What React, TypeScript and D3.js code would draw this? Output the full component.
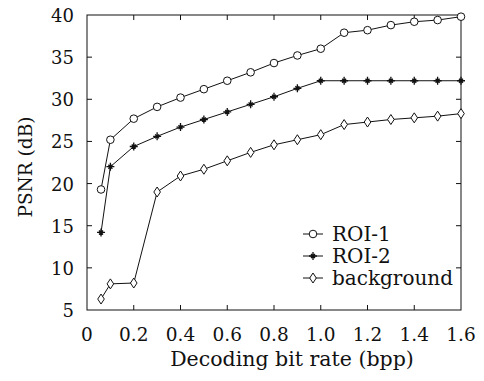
import * as d3 from 'd3'

const rates = [0.06, 0.1, 0.2, 0.3, 0.4, 0.5, 0.6, 0.7, 0.8, 0.9, 1.0, 1.1, 1.2, 1.3, 1.4, 1.5, 1.6]
const roi1 = [19.3, 25.2, 27.7, 29.1, 30.2, 31.2, 32.2, 33.2, 34.3, 35.2, 36.0, 37.9, 38.2, 38.8, 39.2, 39.4, 39.8]
const roi2 = [14.2, 22.0, 24.4, 25.6, 26.7, 27.6, 28.5, 29.4, 30.3, 31.3, 32.2, 32.2, 32.2, 32.2, 32.2, 32.2, 32.2]
const background = [6.3, 8.1, 8.2, 19.0, 20.9, 21.7, 22.7, 23.7, 24.6, 25.2, 25.8, 27.0, 27.3, 27.6, 27.8, 28.0, 28.3]
const xTicks = [0, 0.2, 0.4, 0.6, 0.8, 1.0, 1.2, 1.4, 1.6]
const yTicks = [5, 10, 15, 20, 25, 30, 35, 40]

const series = [
    { name: 'ROI-1', values: roi1, marker: 'circle' },
    { name: 'ROI-2', values: roi2, marker: 'star' },
    { name: 'background', values: background, marker: 'diamond' },
]

const W = 484
const H = 381
const margin = { top: 15, right: 23, bottom: 71, left: 87 }
const font = "'DejaVu Serif', serif"

const Marker = ({ type, cx, cy }: { type: string, cx: number, cy: number }) => {
    if (type === 'circle') {
        return <circle cx={cx} cy={cy} r={3.8} fill="white" stroke="#111" strokeWidth={1} />
    }
    if (type === 'diamond') {
        return <path d={`M${cx},${cy - 5}L${cx + 3.3},${cy}L${cx},${cy + 5}L${cx - 3.3},${cy}Z`} fill="white" stroke="#111" strokeWidth={1} />
    }
    return (
        <path
            d={`M${cx - 4},${cy}L${cx + 4},${cy}M${cx},${cy - 4}L${cx},${cy + 4}M${cx - 2},${cy - 2}L${cx + 2},${cy + 2}M${cx - 2},${cy + 2}L${cx + 2},${cy - 2}`}
            stroke="#111" strokeWidth={1.3} fill="none"
        />
    )
}

const App = () => {
    const innerW = W - margin.left - margin.right
    const innerH = H - margin.top - margin.bottom

    const x = d3.scaleLinear().domain([0, 1.6]).range([margin.left, margin.left + innerW])
    const y = d3.scaleLinear().domain([5, 40]).range([margin.top + innerH, margin.top])

    const line = d3.line<number>()
        .x((d, i) => x(rates[i]))
        .y(d => y(d))

    const tickLen = 5
    const legendX = 303
    const legendY = [234, 256, 278]

    return (
        <svg width={W} height={H} style={{ position: 'absolute', left: 0, top: 0, background: 'white' }}>
            <rect x={margin.left} y={margin.top} width={innerW} height={innerH} fill="none" stroke="#111" strokeWidth={1} />

            {xTicks.map(t => (
                <g key={'x' + t}>
                    {t > 0 && t < 1.6 && (
                        <>
                            <line x1={x(t)} x2={x(t)} y1={y(5)} y2={y(5) - tickLen} stroke="#111" />
                            <line x1={x(t)} x2={x(t)} y1={y(40)} y2={y(40) + tickLen} stroke="#111" />
                        </>
                    )}
                    <text x={x(t)} y={y(5) + 31} textAnchor="middle" fontFamily={font} fontSize={18.5} fill="#111">
                        {t === 0 ? '0' : t.toFixed(1)}
                    </text>
                </g>
            ))}

            {yTicks.map(t => (
                <g key={'y' + t}>
                    {t > 5 && t < 40 && (
                        <>
                            <line x1={x(0)} x2={x(0) + tickLen} y1={y(t)} y2={y(t)} stroke="#111" />
                            <line x1={x(1.6)} x2={x(1.6) - tickLen} y1={y(t)} y2={y(t)} stroke="#111" />
                        </>
                    )}
                    <text x={x(0) - 13} y={y(t) + 7} textAnchor="end" fontFamily={font} fontSize={18} fill="#111">
                        {t}
                    </text>
                </g>
            ))}

            {series.map(s => (
                <g key={s.name}>
                    <path d={line(s.values) || ''} fill="none" stroke="#111" strokeWidth={1} />
                    {s.values.map((v, i) => (
                        <Marker key={i} type={s.marker} cx={x(rates[i])} cy={y(v)} />
                    ))}
                </g>
            ))}

            {series.map((s, i) => (
                <g key={'lg' + s.name}>
                    <line x1={legendX} x2={legendX + 20} y1={legendY[i]} y2={legendY[i]} stroke="#111" />
                    <Marker type={s.marker} cx={legendX + 10} cy={legendY[i]} />
                    <text x={legendX + 29} y={legendY[i] + 7} fontFamily={font} fontSize={20} fill="#111">{s.name}</text>
                </g>
            ))}

            <text x={292} y={366} textAnchor="middle" fontFamily={font} fontSize={20.5} fill="#111">
                Decoding bit rate (bpp)
            </text>
            <text transform={`translate(32,167) rotate(-90)`} textAnchor="middle" fontFamily={font} fontSize={18.5} fill="#111">
                PSNR (dB)
            </text>
        </svg>
    )
}

export default App
